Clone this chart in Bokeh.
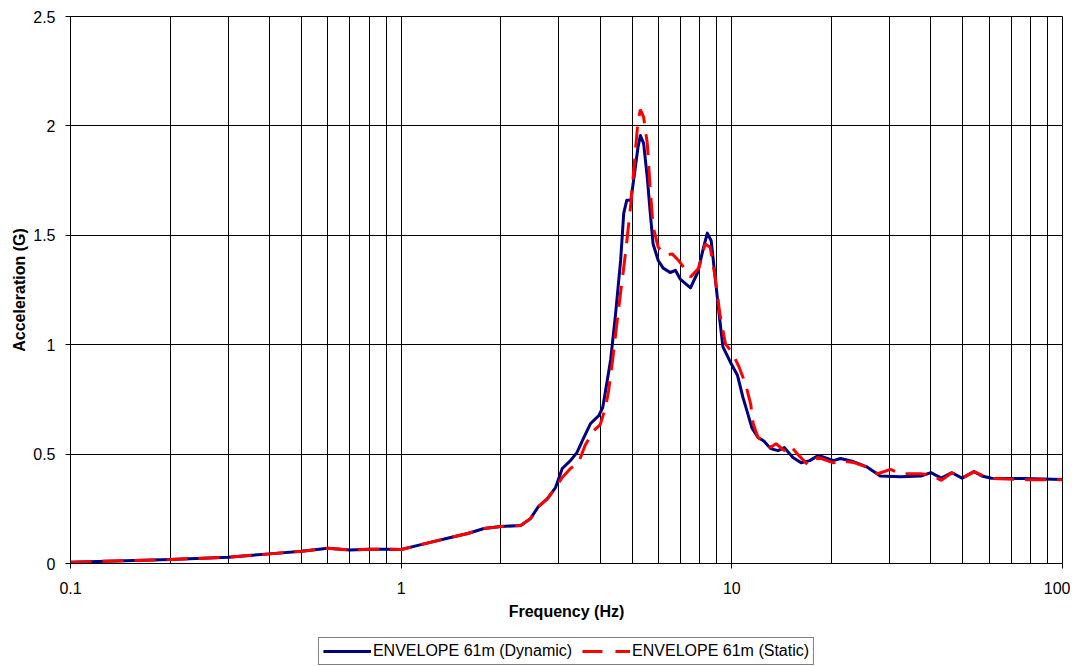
from bokeh.plotting import figure
from bokeh.layouts import column
from bokeh.models import (FixedTicker, CustomJSTickFormatter, Legend, LegendItem, Range1d)
from bokeh.embed import file_html
from bokeh.resources import INLINE

# ---- data ----
freq_dyn = [0.1, 0.2, 0.3, 0.4, 0.5, 0.6, 0.7, 0.8, 0.9, 1.0, 1.14, 1.41, 1.59, 1.78, 2.0,
            2.3, 2.46, 2.6, 2.77, 2.93, 3.07, 3.25, 3.4, 3.57, 3.74, 3.96, 4.07, 4.2, 4.3,
            4.45, 4.61, 4.71, 4.81, 4.95, 5.06, 5.2, 5.29, 5.41, 5.55, 5.66, 5.78, 5.99, 6.2,
            6.51, 6.75, 6.98, 7.5, 7.88, 8.2, 8.43, 8.66, 8.9, 9.2, 9.4, 9.9, 10.4, 10.8, 11.1,
            11.5, 12.0, 12.5, 13.1, 13.8, 14.4, 15.3, 16.2, 17.2, 18.3, 20.3, 21.3, 23.3, 25.7,
            28.1, 32.4, 37.3, 40.0, 43.0, 46.3, 49.7, 54.0, 57.0, 61.0, 76.0, 100.0]
acc_dyn = [0.006, 0.018, 0.029, 0.044, 0.056, 0.07, 0.062, 0.065, 0.065, 0.064, 0.085, 0.119,
           0.137, 0.16, 0.169, 0.174, 0.205, 0.26, 0.297, 0.347, 0.434, 0.47, 0.507, 0.576,
           0.64, 0.676, 0.713, 0.836, 0.93, 1.14, 1.385, 1.60, 1.66, 1.66, 1.765, 1.90, 1.956,
           1.92, 1.765, 1.61, 1.46, 1.385, 1.35, 1.33, 1.34, 1.30, 1.26, 1.33, 1.44, 1.51,
           1.475, 1.31, 1.11, 0.99, 0.92, 0.86, 0.76, 0.70, 0.62, 0.576, 0.56, 0.525, 0.516,
           0.53, 0.485, 0.46, 0.47, 0.494, 0.47, 0.48, 0.466, 0.44, 0.40, 0.397, 0.40, 0.415,
           0.39, 0.415, 0.39, 0.42, 0.40, 0.39, 0.388, 0.384]

freq_sta = [0.1, 0.2, 0.3, 0.4, 0.5, 0.6, 0.7, 0.8, 0.9, 1.0, 1.14, 1.41, 1.59, 1.78, 2.0,
            2.3, 2.46, 2.6, 2.77, 2.93, 3.07, 3.25, 3.43, 3.6, 3.83, 4.0, 4.15, 4.24, 4.36,
            4.55, 4.78, 4.95, 5.06, 5.2, 5.29, 5.41, 5.55, 5.66, 5.78, 5.99, 6.29, 6.6, 6.9,
            7.5, 7.95, 8.3, 8.6, 8.9, 9.2, 9.56, 10.05, 10.5, 11.0, 11.4, 11.6, 12.0, 12.6,
            13.1, 13.6, 14.4, 15.0, 15.8, 17.0, 18.2, 20.3, 21.3, 23.3, 25.7, 27.6, 30.2, 32.4,
            37.3, 40.0, 43.0, 46.3, 49.7, 54.0, 59.5, 76.0, 100.0]
acc_sta = [0.006, 0.018, 0.029, 0.044, 0.056, 0.07, 0.062, 0.065, 0.065, 0.064, 0.085, 0.119,
           0.137, 0.16, 0.169, 0.174, 0.205, 0.26, 0.297, 0.347, 0.393, 0.434, 0.457, 0.54,
           0.608, 0.635, 0.713, 0.79, 0.93, 1.17, 1.43, 1.645, 1.81, 2.02, 2.075, 2.04, 1.92,
           1.72, 1.54, 1.445, 1.41, 1.415, 1.385, 1.31, 1.35, 1.46, 1.445, 1.31, 1.14, 1.005,
           0.96, 0.90, 0.82, 0.73, 0.64, 0.576, 0.553, 0.53, 0.548, 0.516, 0.54, 0.50, 0.45,
           0.485, 0.46, 0.47, 0.462, 0.44, 0.41, 0.43, 0.41, 0.41, 0.405, 0.38, 0.415, 0.39,
           0.42, 0.39, 0.383, 0.383]

x_major = [0.1, 1, 10, 100]
x_minor = [m * d for d in (0.1, 1, 10) for m in range(2, 10)]
y_ticks = [0, 0.5, 1, 1.5, 2, 2.5]
series_names = ["ENVELOPE 61m (Dynamic)", "ENVELOPE 61m (Static)"]

FONT = "Liberation Sans"
FS = "16px"
DYN_COLOR, STA_COLOR = "#000080", "#FF0000"

p = figure(frame_width=992, frame_height=547, x_axis_type="log", output_backend="svg",
           toolbar_location=None, x_range=Range1d(0.1, 100), y_range=Range1d(0, 2.5),
           min_border_left=70, min_border_right=8, min_border_top=16, min_border_bottom=70)
p.background_fill_color = "white"
p.border_fill_color = "white"
p.outline_line_color = "black"
p.outline_line_width = 1

fmt = CustomJSTickFormatter(code="return String(Math.round(tick*10)/10);")

p.xaxis.ticker = FixedTicker(ticks=x_major, minor_ticks=x_minor)
p.yaxis.ticker = FixedTicker(ticks=y_ticks)
p.xaxis.formatter = fmt
p.yaxis.formatter = fmt

for ax in (p.xaxis, p.yaxis):
    ax.axis_line_color = "black"
    ax.major_tick_line_color = "black"
    ax.major_tick_out = 5
    ax.major_tick_in = 0
    ax.minor_tick_line_color = None
    ax.major_label_text_font = FONT
    ax.major_label_text_font_size = FS
    ax.major_label_text_color = "black"
    ax.axis_label_text_font = FONT
    ax.axis_label_text_font_size = FS
    ax.axis_label_text_font_style = "bold"
    ax.axis_label_text_color = "black"

p.xaxis.axis_label = "Frequency (Hz)"
p.yaxis.axis_label = "Acceleration (G)"
p.xaxis.major_label_standoff = 13
p.xaxis.axis_label_standoff = 6
p.yaxis.major_label_standoff = 10
p.yaxis.axis_label_standoff = 2

p.xgrid.grid_line_color = "black"
p.xgrid.grid_line_width = 1
p.xgrid.minor_grid_line_color = "black"
p.xgrid.minor_grid_line_width = 1
p.ygrid.grid_line_color = "black"
p.ygrid.grid_line_width = 1

p.line(freq_dyn, acc_dyn, line_color=DYN_COLOR, line_width=3, line_join="round")
p.line(freq_sta, acc_sta, line_color=STA_COLOR, line_width=3, line_dash="21 11")

# legend panel below the chart (its series lie outside its hidden range)
lf = figure(frame_width=992, frame_height=33, x_axis_type="log", output_backend="svg",
            toolbar_location=None, x_range=Range1d(0.1, 100), y_range=Range1d(10, 11),
            x_axis_location=None, y_axis_location=None,
            min_border_left=70, min_border_right=8, min_border_top=0, min_border_bottom=0)
lf.grid.visible = False
lf.outline_line_color = None
lf.background_fill_color = "white"
lf.border_fill_color = "white"
l_dyn = lf.line(freq_dyn, acc_dyn, line_color=DYN_COLOR, line_width=3)
l_sta = lf.line(freq_sta, acc_sta, line_color=STA_COLOR, line_width=3, line_dash="20 13")

legend = Legend(items=[LegendItem(label=series_names[0], renderers=[l_dyn]),
                       LegendItem(label=series_names[1], renderers=[l_sta])],
                orientation="horizontal", location="bottom_center",
                label_text_font=FONT, label_text_font_size=FS,
                label_text_color="black", glyph_width=48, glyph_height=16,
                label_standoff=2, spacing=10, padding=4, margin=1,
                border_line_color="black", border_line_width=1,
                background_fill_color="white", background_fill_alpha=1.0,
                label_height=16)
lf.add_layout(legend, "center")

page = column(p, lf, spacing=0)
open("out.html", "w").write(file_html(page, INLINE))
